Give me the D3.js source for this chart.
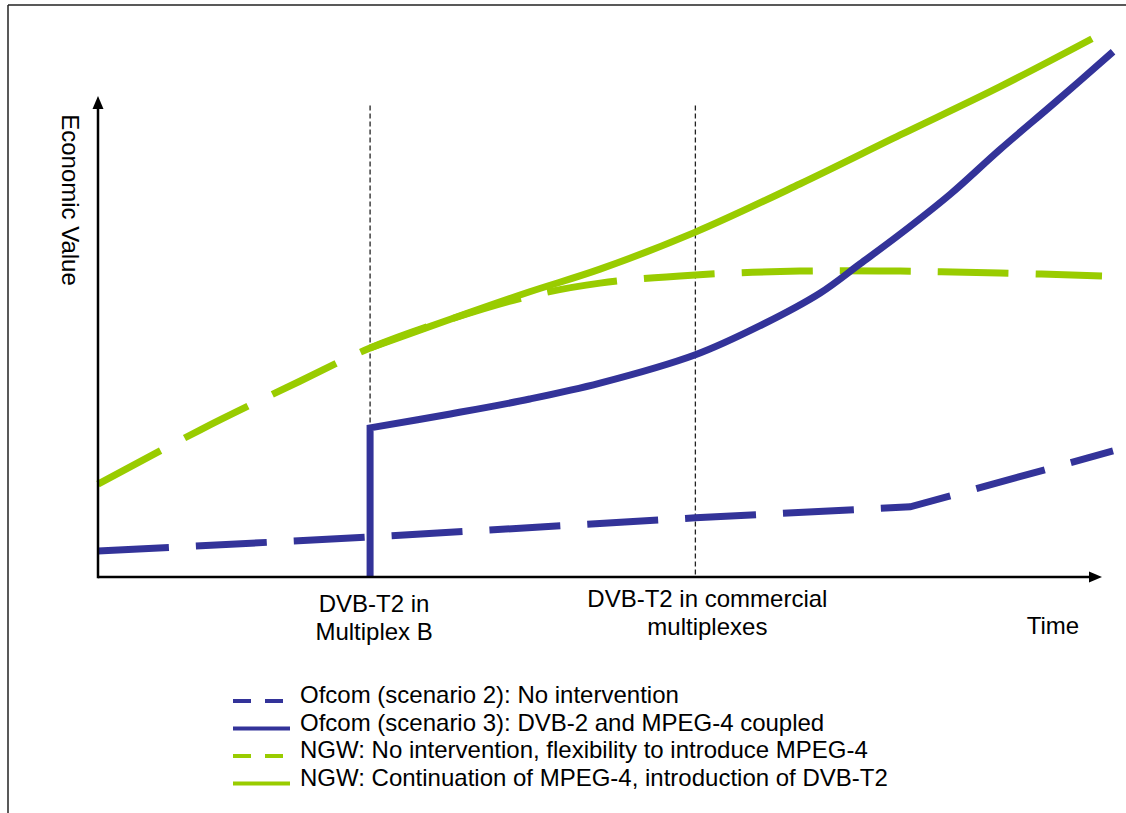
<!DOCTYPE html>
<html>
<head>
<meta charset="utf-8">
<script src="https://cdn.jsdelivr.net/npm/d3@7"></script>
<style>
  html, body { margin: 0; padding: 0; background: #fff; }
  svg { display: block; font-family: "Liberation Sans", Arial, sans-serif; }
</style>
</head>
<body>
<svg id="chart" width="1126" height="813"></svg>
<script>
// Time and economic value on an arbitrary 0–100 scale
const ofcomNoInterventionTime  = [0, 27.1, 59.5, 80.9, 101.1];
const ofcomNoInterventionValue = [5.4, 8.3, 12.3, 14.6, 26.2];

const ofcomCoupledTime  = [27.1, 27.1, 35.1, 43.0, 50.0, 59.5, 65.9, 71.9, 75.9, 79.9, 84.9, 89.8, 95.4, 101.1];
const ofcomCoupledValue = [0, 31.0, 33.9, 37.0, 40.3, 46.2, 52.2, 59.0, 65.1, 71.3, 79.6, 88.8, 98.8, 109.2];

const ngwFlexTime  = [0, 10.2, 20.1, 27.1, 35.1, 43.0, 50.0, 59.5, 69.9, 79.9, 89.8, 100];
const ngwFlexValue = [19.3, 30.6, 40.7, 47.6, 53.6, 58.4, 61.1, 62.8, 63.6, 63.6, 63.2, 62.6];

const ngwT2Time  = [27.1, 35.1, 43.0, 50.0, 59.5, 69.9, 79.9, 89.8, 99.0];
const ngwT2Value = [47.6, 53.6, 59.3, 64.0, 71.7, 81.7, 91.9, 101.9, 111.9];

// Milestones on the time axis
const milestoneTimes  = [27.1, 59.5];
const milestoneLabels = [["DVB-T2 in", "Multiplex B"], ["DVB-T2 in commercial", "multiplexes"]];

const xAxisTitle = "Time";
const yAxisTitle = "Economic Value";

const legendLabels = [
  "Ofcom (scenario 2): No intervention",
  "Ofcom (scenario 3): DVB-2 and MPEG-4 coupled",
  "NGW: No intervention, flexibility to introduce MPEG-4",
  "NGW: Continuation of MPEG-4, introduction of DVB-T2"
];

const BLUE = "#333399";
const GREEN = "#99cc00";
const FONT_SIZE = 24;

const svg = d3.select("#chart");

// frame
svg.append("line").attr("x1", 8).attr("y1", 5).attr("x2", 1126).attr("y2", 5)
  .attr("stroke", "#222").attr("stroke-width", 1.5);
svg.append("line").attr("x1", 8).attr("y1", 5).attr("x2", 8).attr("y2", 813)
  .attr("stroke", "#222").attr("stroke-width", 1.5);

const x = d3.scaleLinear().domain([0, 100]).range([98, 1102]);
const y = d3.scaleLinear().domain([0, 100]).range([577, 96]);

const zip = (ts, vs) => ts.map((t, i) => [t, vs[i]]);

// milestone guides
milestoneTimes.forEach(t => {
  svg.append("line")
    .attr("x1", x(t)).attr("x2", x(t))
    .attr("y1", y(98)).attr("y2", y(0))
    .attr("stroke", "#222").attr("stroke-width", 1.3)
    .attr("stroke-dasharray", "5,3");
});

const lineLinear = d3.line().x(d => x(d[0])).y(d => y(d[1]));
const lineSmooth = d3.line().x(d => x(d[0])).y(d => y(d[1])).curve(d3.curveCatmullRom.alpha(0.5));

const g = svg.append("g").attr("fill", "none").attr("stroke-width", 7);

// Ofcom scenario 2
g.append("path")
  .attr("d", lineLinear(zip(ofcomNoInterventionTime, ofcomNoInterventionValue)))
  .attr("stroke", BLUE).attr("stroke-dasharray", "71,27");

// NGW no intervention
g.append("path")
  .attr("d", lineSmooth(zip(ngwFlexTime, ngwFlexValue)))
  .attr("stroke", GREEN).attr("stroke-dasharray", "71,27");

// NGW continuation with DVB-T2
g.append("path")
  .attr("d", lineSmooth(zip(ngwT2Time, ngwT2Value)))
  .attr("stroke", GREEN);

// Ofcom scenario 3: vertical jump, then smooth rise
const coupled = zip(ofcomCoupledTime, ofcomCoupledValue);
const risePath = lineSmooth(coupled.slice(1)).replace(/^M/, "L");
g.append("path")
  .attr("d", `M${x(coupled[0][0])},${y(coupled[0][1])}` + risePath)
  .attr("stroke", BLUE).attr("stroke-linejoin", "miter");

// axes with arrowheads
const axisG = svg.append("g");
axisG.append("line")
  .attr("x1", x(0)).attr("x2", x(100) - 8).attr("y1", y(0)).attr("y2", y(0))
  .attr("stroke", "#000").attr("stroke-width", 2.5);
axisG.append("path")
  .attr("d", `M${x(100)},${y(0)} L${x(100) - 13},${y(0) - 5.5} L${x(100) - 13},${y(0) + 5.5} Z`)
  .attr("fill", "#000");
axisG.append("line")
  .attr("x1", x(0)).attr("x2", x(0)).attr("y1", y(0) + 1.2).attr("y2", y(100) + 8)
  .attr("stroke", "#000").attr("stroke-width", 2.5);
axisG.append("path")
  .attr("d", `M${x(0)},${y(100)} L${x(0) - 5.5},${y(100) + 13} L${x(0) + 5.5},${y(100) + 13} Z`)
  .attr("fill", "#000");

// axis titles
svg.append("text")
  .attr("transform", `translate(62, 200) rotate(90)`)
  .attr("text-anchor", "middle")
  .attr("font-size", FONT_SIZE)
  .text(yAxisTitle);
svg.append("text")
  .attr("x", 1053).attr("y", 634)
  .attr("text-anchor", "middle")
  .attr("font-size", FONT_SIZE)
  .text(xAxisTitle);

// milestone labels
const labelBase = [612, 607];
milestoneTimes.forEach((t, i) => {
  const txt = svg.append("text")
    .attr("text-anchor", "middle")
    .attr("font-size", FONT_SIZE);
  milestoneLabels[i].forEach((line, j) => {
    txt.append("tspan")
      .attr("x", x(t) + (i === 0 ? 4 : 12))
      .attr("y", labelBase[i] + j * 28)
      .text(line);
  });
});

// legend
const legendStyles = [
  { color: BLUE, dash: "18,14" },
  { color: BLUE, dash: null },
  { color: GREEN, dash: "18,14" },
  { color: GREEN, dash: null }
];
const legend = svg.append("g").attr("transform", "translate(233, 0)");
legendLabels.forEach((label, i) => {
  const yy = 701 + i * 27.5;
  const ln = legend.append("line")
    .attr("x1", 0).attr("x2", 57).attr("y1", yy).attr("y2", yy)
    .attr("stroke", legendStyles[i].color).attr("stroke-width", 4);
  if (legendStyles[i].dash) ln.attr("stroke-dasharray", legendStyles[i].dash);
  legend.append("text")
    .attr("x", 67).attr("y", yy + 2)
    .attr("font-size", FONT_SIZE)
    .text(label);
});
</script>
</body>
</html>
